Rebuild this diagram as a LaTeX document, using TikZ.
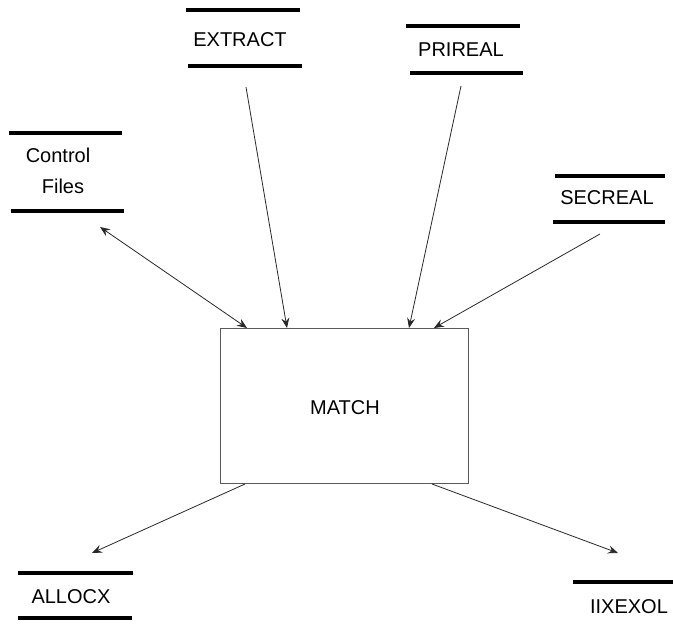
\documentclass[tikz,border=0pt]{standalone}
\usepackage{fontspec}
\setmainfont{Liberation Sans}
\usetikzlibrary{arrows.meta}
\begin{document}
\begin{tikzpicture}[x=1pt,y=-1pt,
  label/.style={font=\fontsize{20}{23}\selectfont, inner sep=0pt, anchor=base},
  bar/.style={line width=3.6pt, black},
  tip/.style={Stealth[length=10pt,width=8pt,inset=3.5pt]},
  flow/.style={line width=0.8pt, draw={rgb,255:red,40;green,40;blue,40},
    -{Stealth[length=10pt,width=8pt,inset=3.5pt]}},
  process/.style={draw={rgb,255:red,90;green,90;blue,90}, line width=1pt,
    minimum width=248pt, minimum height=155pt, inner sep=0pt}]
\useasboundingbox (0,0) rectangle (673,628);

% process box
\node[process] (match) at (344,406.5) {};
\node[label] (matchtxt) at (345,415) {MATCH};

% data stores: two bars with the name between them
\draw[bar] (9,133) -- (122,133);
\draw[bar] (11,211) -- (124,211);
\node[label] (ctl) at (58,163) {Control};
\node[label] (files) at (63,194) {Files};

\draw[bar] (186,10) -- (300,10);
\draw[bar] (188,66) -- (302,66);
\node[label] (extract) at (240,47) {EXTRACT};

\draw[bar] (406,26) -- (520,26);
\draw[bar] (410,73) -- (523,73);
\node[label] (prireal) at (461,57) {PRIREAL};

\draw[bar] (555,176) -- (665,176);
\draw[bar] (553,222) -- (665,222);
\node[label] (secreal) at (607,205) {SECREAL};

\draw[bar] (18,573) -- (133,573);
\draw[bar] (18,618) -- (132,618);
\node[label] (allocx) at (71,604) {ALLOCX};

\draw[bar] (573,582) -- (673,582);
\node[label] (iixexol) at (629,614) {IIXEXOL};

% connector end points
\coordinate (ctl-e) at (100,227);
\coordinate (ctl-m) at (247,328);
\coordinate (ext-e) at (246,87);
\coordinate (ext-m) at (287,328);
\coordinate (pri-e) at (461,86);
\coordinate (pri-m) at (409,328);
\coordinate (sec-e) at (600,234);
\coordinate (sec-m) at (434,328);
\coordinate (all-m) at (245,484);
\coordinate (all-e) at (92,553);
\coordinate (iix-m) at (432,484);
\coordinate (iix-e) at (618,553);

% data flows
\draw[flow, {Stealth[length=10pt,width=8pt,inset=3.5pt]}-{Stealth[length=10pt,width=8pt,inset=3.5pt]}] (ctl-e) -- (ctl-m);
\draw[flow] (ext-e) -- (ext-m);
\draw[flow] (pri-e) -- (pri-m);
\draw[flow] (sec-e) -- (sec-m);
\draw[flow] (all-m) -- (all-e);
\draw[flow] (iix-m) -- (iix-e);
\end{tikzpicture}
\end{document}
